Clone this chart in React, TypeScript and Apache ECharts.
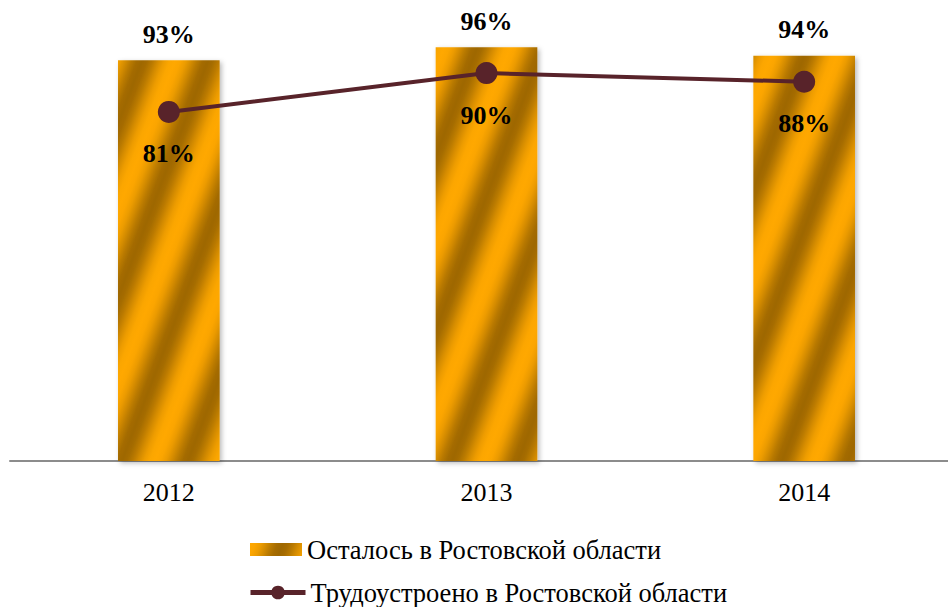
import React, { useEffect, useRef } from "react";
import * as echarts from "echarts";

const categories = ["2012", "2013", "2014"];
const remained = [93, 96, 94];
const employed = [81, 90, 88];
const seriesNames = ["Осталось в Ростовской области", "Трудоустроено в Ростовской области"];

const STRIPE_PERIOD = 66;
const STRIPE_SLANT = 0.38;

function stripeGradient() {
  const light = [255, 168, 0];
  const dark = [120, 78, 0];
  const span = 1260;
  const X = span / (1 + STRIPE_SLANT * STRIPE_SLANT);
  const periods = span / STRIPE_PERIOD;
  const perPeriod = 12;
  const total = Math.round(periods * perPeriod);
  const stops: { offset: number; color: string }[] = [];
  for (let k = 0; k <= total; k++) {
    const frac = k / total;
    const ph = (frac * span) / STRIPE_PERIOD;
    let w = (1 - Math.cos(2 * Math.PI * ph)) / 2;
    w = Math.pow(w, 1.2) * 0.72;
    const r = Math.round(light[0] * (1 - w) + dark[0] * w);
    const g = Math.round(light[1] * (1 - w) + dark[1] * w);
    const b = Math.round(light[2] * (1 - w) + dark[2] * w);
    stops.push({ offset: frac, color: `rgb(${r},${g},${b})` });
  }
  return new echarts.graphic.LinearGradient(0, 0, X, STRIPE_SLANT * X, stops, true);
}

export default function App() {
  const ref = useRef<HTMLDivElement>(null);
  useEffect(() => {
    const chart = echarts.init(ref.current!, null, { renderer: "svg" });
    const fill = stripeGradient();
    const font = "Liberation Serif";
    const lineColor = "#58232A";
    chart.setOption({
      animation: false,
      textStyle: { fontFamily: font },
      grid: { left: 10, right: 0, top: 30, bottom: 146, containLabel: false },
      legend: [
        {
          orient: "horizontal",
          left: 245,
          top: 531,
          itemWidth: 52,
          itemHeight: 13,
          textStyle: { fontFamily: font, fontSize: 26.5, color: "#000" },
          data: [{ name: seriesNames[0], icon: "rect" }],
        },
        {
          orient: "horizontal",
          left: 243,
          top: 574,
          itemWidth: 55,
          itemHeight: 17,
          textStyle: { fontFamily: font, fontSize: 26.5, color: "#000" },
          data: [{ name: seriesNames[1], lineStyle: { width: 5, color: lineColor } }],
        },
      ],
      xAxis: {
        type: "category",
        data: categories,
        axisLine: { lineStyle: { color: "#8c8c8c", width: 2 } },
        axisTick: { show: false },
        axisLabel: { fontFamily: font, fontSize: 26, color: "#000", margin: 18 },
      },
      yAxis: { type: "value", min: 0, max: 100, show: false, splitLine: { show: false } },
      series: [
        {
          name: seriesNames[0],
          type: "bar",
          data: remained,
          barWidth: "32%",
          itemStyle: {
            color: fill,
            shadowColor: "rgba(0,0,0,0.28)",
            shadowBlur: 5,
            shadowOffsetX: 2,
            shadowOffsetY: 2,
          },
          label: {
            show: true,
            position: "top",
            distance: 13,
            formatter: "{c}%",
            fontFamily: font,
            fontSize: 26,
            fontWeight: "bold",
            color: "#000",
          },
        },
        {
          name: seriesNames[1],
          type: "line",
          data: employed,
          symbol: "circle",
          symbolSize: 22,
          lineStyle: { color: lineColor, width: 4 },
          itemStyle: { color: lineColor },
          label: {
            show: true,
            position: "bottom",
            distance: 18,
            formatter: "{c}%",
            fontFamily: font,
            fontSize: 26,
            fontWeight: "bold",
            color: "#000",
          },
        },
      ],
    });
    return () => chart.dispose();
  }, []);
  return (
    <div style={{ width: 948, height: 607, position: "absolute", left: 0, top: 0, overflow: "hidden" }}>
      <div ref={ref} style={{ width: 963, height: 607 }} />
    </div>
  );
}
